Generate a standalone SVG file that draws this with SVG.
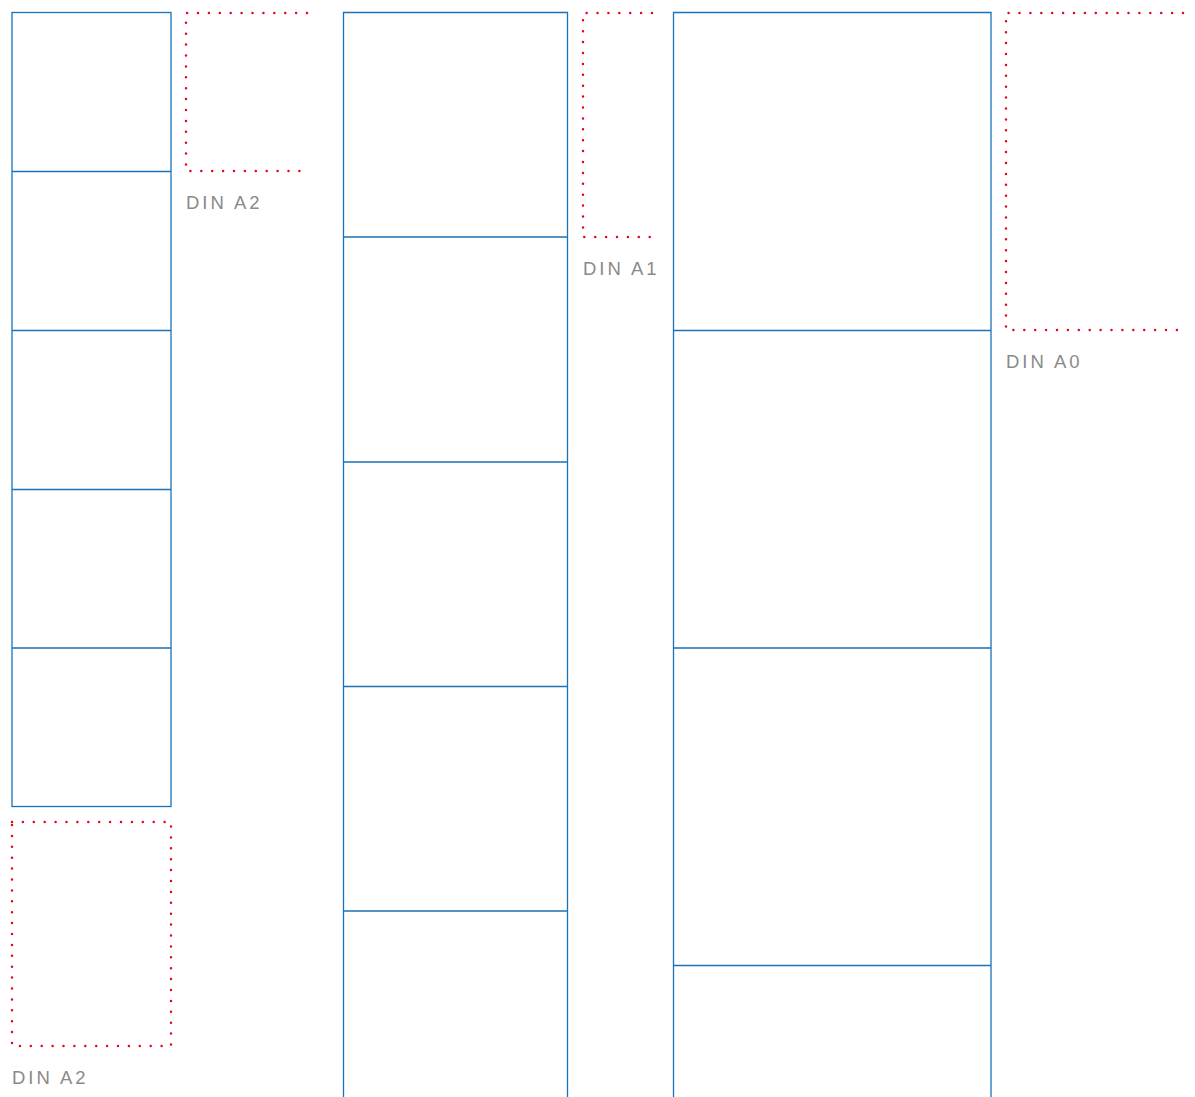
<svg xmlns="http://www.w3.org/2000/svg" width="1195" height="1097" viewBox="0 0 1195 1097">
<style>
.b{fill:none;stroke:#1a72b8;stroke-width:1.3}
.d{fill:none;stroke:#e30613;stroke-width:2.5;stroke-linecap:round;stroke-dasharray:0 10.9}
.t{font-family:"Liberation Sans",Arial,sans-serif;font-size:18.5px;fill:#8a8a8a;letter-spacing:3px}
</style>
<rect width="1195" height="1097" fill="#fff"/>
<g id="col-a2">
<rect class="b" x="12" y="12.5" width="159" height="794"/>
<path class="b" d="M12 171.5H171M12 330.5H171M12 489.5H171M12 648H171"/>
</g>
<g id="col-a1">
<path class="b" d="M343.5 1097V12.5H567.5V1097M343.5 237H567.5M343.5 462H567.5M343.5 686.5H567.5M343.5 911H567.5"/>
</g>
<g id="col-a0">
<path class="b" d="M673.5 1097V12.5H991V1097M673.5 330.5H991M673.5 648H991M673.5 965.5H991"/>
</g>
<g id="fmt-a2-top">
<path class="d" d="M307 13H186V171H302"/>
<text class="t" x="186" y="209">DIN A2</text>
</g>
<g id="fmt-a1">
<path class="d" d="M652 13H583V237H650"/>
<text class="t" x="583" y="275">DIN A1</text>
</g>
<g id="fmt-a0">
<path class="d" d="M1183 13H1006V330H1183"/>
<text class="t" x="1006" y="368">DIN A0</text>
</g>
<g id="fmt-a2-bottom">
<rect class="d" x="12" y="822" width="159" height="224"/>
<text class="t" x="12" y="1084">DIN A2</text>
</g>
<g id="connectors"></g>
</svg>
